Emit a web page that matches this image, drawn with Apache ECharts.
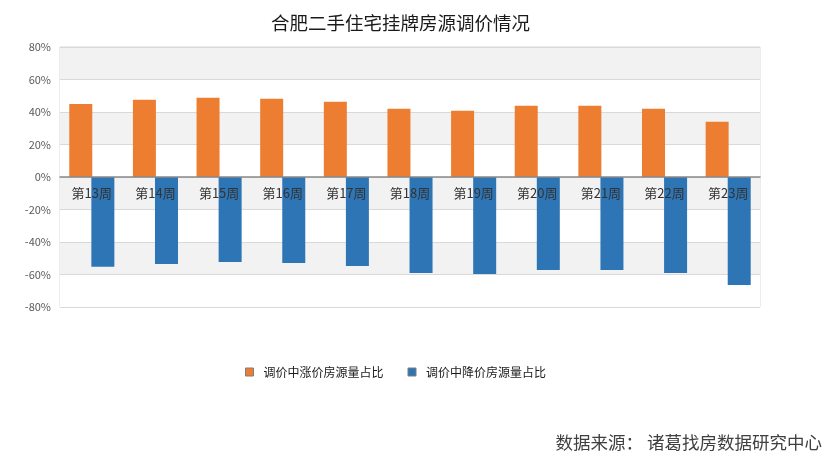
<!DOCTYPE html>
<html>
<head>
<meta charset="utf-8">
<script src="https://cdn.jsdelivr.net/npm/echarts@6/dist/echarts.min.js"></script>
<style>html,body{margin:0;padding:0;background:#fff}#c{width:837px;height:464px}</style>
</head>
<body>
<div id="c"></div>
<script>
const categories = ['第13周','第14周','第15周','第16周','第17周','第18周','第19周','第20周','第21周','第22周','第23周'];
const riseShare = [45, 47.5, 48.8, 48.1, 46.3, 42, 40.7, 43.8, 43.8, 42, 34];
const fallShare = [-55.3, -53.5, -52.3, -52.9, -54.7, -59.1, -59.7, -57.2, -57.2, -59.1, -66.5];
const seriesNames = ['调价中涨价房源量占比', '调价中降价房源量占比'];
const titleText = '合肥二手住宅挂牌房源调价情况';
const sourceText = '数据来源： 诸葛找房数据研究中心';

const chart = echarts.init(document.getElementById('c'));
const font = '"Noto Sans CJK SC", "Noto Sans", sans-serif';
chart.setOption({
  animation: false,
  backgroundColor: '#fff',
  textStyle: { fontFamily: font },
  title: {
    text: titleText, left: 266, top: 9,
    textStyle: { fontSize: 18.5, fontWeight: 'normal', color: '#1a1a1a', fontFamily: font }
  },
  graphic: [{
    type: 'text', right: 15, top: 434,
    style: { text: sourceText, fontSize: 17.5, fill: '#404040', fontFamily: font }
  }],
  legend: {
    data: seriesNames, left: 240, top: 361, itemWidth: 8, itemHeight: 8, itemGap: 24,
    icon: 'rect',
    textStyle: { fontSize: 12, color: '#1a1a1a', fontFamily: font, padding: [0, 0, 0, 5] },
    itemStyle: { borderColor: '#7f7f7f', borderWidth: 1 }
  },
  grid: { left: 60, right: 77, top: 47, bottom: 157, show: true, borderColor: '#d9d9d9', borderWidth: 1, containLabel: false },
  xAxis: {
    type: 'category', data: categories, z: 5, position: 'bottom', offset: -130,
    axisLine: { onZero: false, lineStyle: { color: '#898989', width: 1.5 } },
    axisTick: { show: false },
    axisLabel: { margin: 10, fontSize: 13, color: '#333', fontFamily: font }
  },
  yAxis: {
    type: 'value', min: -80, max: 80, interval: 20,
    axisLine: { show: false }, axisTick: { show: false },
    axisLabel: { formatter: '{value}%', fontSize: 11, color: '#595959', margin: 9 },
    splitLine: { lineStyle: { color: '#d9d9d9' } },
    splitArea: { show: true, areaStyle: { color: ['#ffffff', '#f2f2f2'] } }
  },
  series: [
    { name: seriesNames[0], type: 'bar', data: riseShare, barWidth: 23, barGap: '-4%', itemStyle: { color: '#ED7D31' } },
    { name: seriesNames[1], type: 'bar', data: fallShare, barWidth: 23, itemStyle: { color: '#2E75B6' } }
  ]
});
</script>
</body>
</html>
